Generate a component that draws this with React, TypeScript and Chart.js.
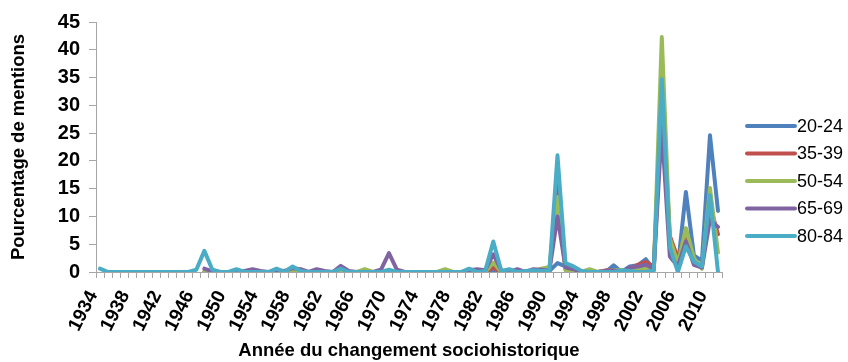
import React, { useEffect, useRef } from "react";
import { Chart, registerables } from "chart.js";

Chart.register(...registerables);

const years = [
  "1934", "1935", "1936", "1937", "1938", "1939", "1940", "1941", "1942", "1943",
  "1944", "1945", "1946", "1947", "1948", "1949", "1950", "1951", "1952", "1953",
  "1954", "1955", "1956", "1957", "1958", "1959", "1960", "1961", "1962", "1963",
  "1964", "1965", "1966", "1967", "1968", "1969", "1970", "1971", "1972", "1973",
  "1974", "1975", "1976", "1977", "1978", "1979", "1980", "1981", "1982", "1983",
  "1984", "1985", "1986", "1987", "1988", "1989", "1990", "1991", "1992", "1993",
  "1994", "1995", "1996", "1997", "1998", "1999", "2000", "2001", "2002", "2003",
  "2004", "2005", "2006", "2007", "2008", "2009", "2010", "2011",
];

const shownYears = [
  "1934", "1938", "1942", "1946", "1950", "1954", "1958", "1962", "1966", "1970",
  "1974", "1978", "1982", "1986", "1990", "1994", "1998", "2002", "2006", "2010",
];

const yTicks = [0, 5, 10, 15, 20, 25, 30, 35, 40, 45];

const s2024 = [
  null, null, null, null, null, null, null, null, null, null,
  null, null, null, 0, 0, 0, 0, 0, 0, 0,
  0, 0, 0, 0, 0, 0, 0, 0, 0, 0,
  0, 0, 0, 0, 0, 0, 0, 0, 0, 0,
  0, 0, 0, 0, 0, 0, 0, 0, 0, 0.3,
  0, 0, 0, 0, 0, 0, 0.2, 1.6, 1.0, 0.3,
  0, 0, 0, 0, 1.2, 0, 1.0, 1.2, 2.3, 0.5,
  30, 5.5, 1.0, 14.4, 3, 2, 24.6, 11,
];

const s3539 = [
  null, null, null, null, null, null, null, null, null, null,
  null, null, null, 0, 0, 0, 0, 0, 0, 0,
  0, 0, 0, 0, 0, 0, 0, 0, 0, 0,
  0, 0, 0, 0, 0, 0, 0, 0, 0, 0,
  0, 0, 0, 0, 0, 0, 0, 0, 0, 0.8,
  0, 0, 0, 0, 0, 0, 0.2, 16, 0.5, 0,
  0, 0, 0, 0.3, 0.3, 0, 0.5, 1.3, 1.8, 1.0,
  33, 6.5, 2.5, 7, 1.8, 1, 12, 6.8,
];

const s5054 = [
  null, null, null, null, null, null, null, null, null, null,
  null, null, null, 0, 0, 0, 0, 0, 0, 0,
  0, 0, 0, 0, 0, 0, 0, 0, 0, 0,
  0, 0, 0, 0.5, 0, 0, 0, 0, 0, 0,
  0, 0, 0, 0.5, 0, 0, 0, 0, 0, 1.7,
  0, 0, 0, 0, 0, 0.6, 0.9, 13.5, 0.3, 0,
  0, 0.5, 0, 0.2, 0.3, 0.3, 0.3, 0.5, 0.7, 0.3,
  42.3, 6, 1.5, 7.9, 2.5, 0.6, 15.1, 3.5,
];

const s6569 = [
  null, null, null, null, null, null, null, null, null, null,
  null, null, null, 0.6, 0.1, 0, 0, 0, 0.2, 0.5,
  0.2, 0, 0.3, 0.2, 0.7, 0.5, 0, 0.5, 0.2, 0,
  1.1, 0.2, 0, 0, 0, 0.4, 3.4, 0.4, 0, 0,
  0, 0, 0, 0, 0, 0, 0.3, 0.5, 0.3, 3.2,
  0.3, 0, 0.5, 0, 0.5, 0.4, 0.3, 10, 0.8, 0.5,
  0, 0, 0, 0.2, 0.3, 0, 0.8, 1.0, 1.3, 0.6,
  26, 2.8, 1.0, 5.5, 1.3, 0.8, 9.4, 8.1,
];

const s8084 = [
  0.6, 0, 0, 0, 0, 0, 0, 0, 0, 0,
  0, 0, 0.4, 3.8, 0.4, 0, 0, 0.5, 0, 0,
  0, 0, 0.6, 0, 1.0, 0.2, 0, 0, 0, 0,
  0.6, 0, 0, 0, 0, 0, 0.4, 0, 0, 0,
  0, 0, 0, 0, 0, 0, 0.6, 0, 0.2, 5.5,
  0.2, 0.5, 0, 0.2, 0.3, 0.2, 0.3, 21, 1.6, 1.0,
  0.2, 0, 0, 0, 0, 0.3, 0.2, 0, 0, 0.3,
  34.7, 4.5, 0, 4.6, 1.9, 1.0, 13.8, 0,
];

const seriesNames = ["20-24", "35-39", "50-54", "65-69", "80-84"];
const seriesData = [s2024, s3539, s5054, s6569, s8084];
const seriesColors = ["#4F81BD", "#C0504D", "#9BBB59", "#8064A2", "#4BACC6"];
const drawOrder = [4, 3, 2, 1, 0];

const FONT = "'Liberation Sans', Arial, sans-serif";

const sideLegend = {
  id: "sideLegend",
  afterDraw(chart: any) {
    const ctx = chart.ctx;
    const area = chart.chartArea;
    const ds = chart.data.datasets;
    const gap = 27.5;
    const cy = chart.height / 2;
    const x0 = area.right + 25;
    const lineLen = 48;
    ctx.save();
    ctx.font = `18px ${FONT}`;
    ctx.textBaseline = "middle";
    ctx.textAlign = "left";
    ds.forEach((d: any, i: number) => {
      const y = cy + (i - (ds.length - 1) / 2) * gap;
      ctx.strokeStyle = d.borderColor;
      ctx.lineWidth = 4;
      ctx.lineCap = "round";
      ctx.beginPath();
      ctx.moveTo(x0, y);
      ctx.lineTo(x0 + lineLen, y);
      ctx.stroke();
      ctx.fillStyle = "#000";
      ctx.fillText(d.label, x0 + lineLen + 2, y + 1);
    });
    ctx.restore();
  },
};

export default function App() {
  const ref = useRef<HTMLCanvasElement | null>(null);

  useEffect(() => {
    if (!ref.current) return;
    const chart = new Chart(ref.current, {
      type: "line",
      data: {
        labels: years,
        datasets: seriesNames.map((name, i) => ({
          label: name,
          data: seriesData[i],
          borderColor: seriesColors[i],
          backgroundColor: seriesColors[i],
          borderWidth: 4,
          pointRadius: 0,
          pointHoverRadius: 0,
          tension: 0,
          borderJoinStyle: "round" as const,
          borderCapStyle: "round" as const,
          spanGaps: false,
          order: drawOrder[i],
        })),
      },
      options: {
        responsive: false,
        animation: false,
        devicePixelRatio: 1,
        layout: { padding: { left: 8, right: 126, top: 22, bottom: 0 } },
        plugins: {
          legend: { display: false },
          tooltip: { enabled: false },
        },
        scales: {
          x: {
            type: "category",
            offset: true,
            grid: {
              offset: true,
              drawOnChartArea: false,
              drawTicks: true,
              tickLength: 6,
              color: "#A6A6A6",
            },
            border: { display: true, color: "#A6A6A6", width: 1 },
            ticks: {
              autoSkip: false,
              maxRotation: 63,
              minRotation: 63,
              padding: 9,
              labelOffset: -7,
              color: "#000",
              font: { family: FONT, size: 19, weight: "bold" },
              callback: function (this: any, value: any) {
                const lab = this.getLabelForValue(value);
                return shownYears.includes(lab) ? lab : "";
              },
            },
            title: {
              display: true,
              text: "Année du changement sociohistorique",
              color: "#000",
              font: { family: FONT, size: 18.5, weight: "bold" },
              padding: { top: 0, bottom: 0 },
            },
            afterFit: (scale: any) => {
              scale.height = 90;
            },
          },
          y: {
            min: 0,
            max: 45,
            afterBuildTicks: (scale: any) => {
              scale.ticks = yTicks.map((v) => ({ value: v }));
            },
            grid: {
              drawOnChartArea: false,
              drawTicks: true,
              tickLength: 7,
              color: "#A6A6A6",
            },
            border: { display: true, color: "#A6A6A6", width: 1 },
            ticks: {
              padding: 9,
              color: "#000",
              font: { family: FONT, size: 20, weight: "bold" },
            },
            title: {
              display: true,
              text: "Pourcentage de mentions",
              color: "#000",
              font: { family: FONT, size: 18.5, weight: "bold" },
              padding: { top: 0, bottom: 0 },
            },
            afterFit: (scale: any) => {
              scale.width = 88;
            },
          },
        },
      },
      plugins: [sideLegend],
    });
    return () => chart.destroy();
  }, []);

  return (
    <div style={{ position: "fixed", left: 0, top: 0, width: 848, height: 362, background: "#fff" }}>
      <canvas ref={ref} width={848} height={362} style={{ width: 848, height: 362, display: "block" }} />
    </div>
  );
}
